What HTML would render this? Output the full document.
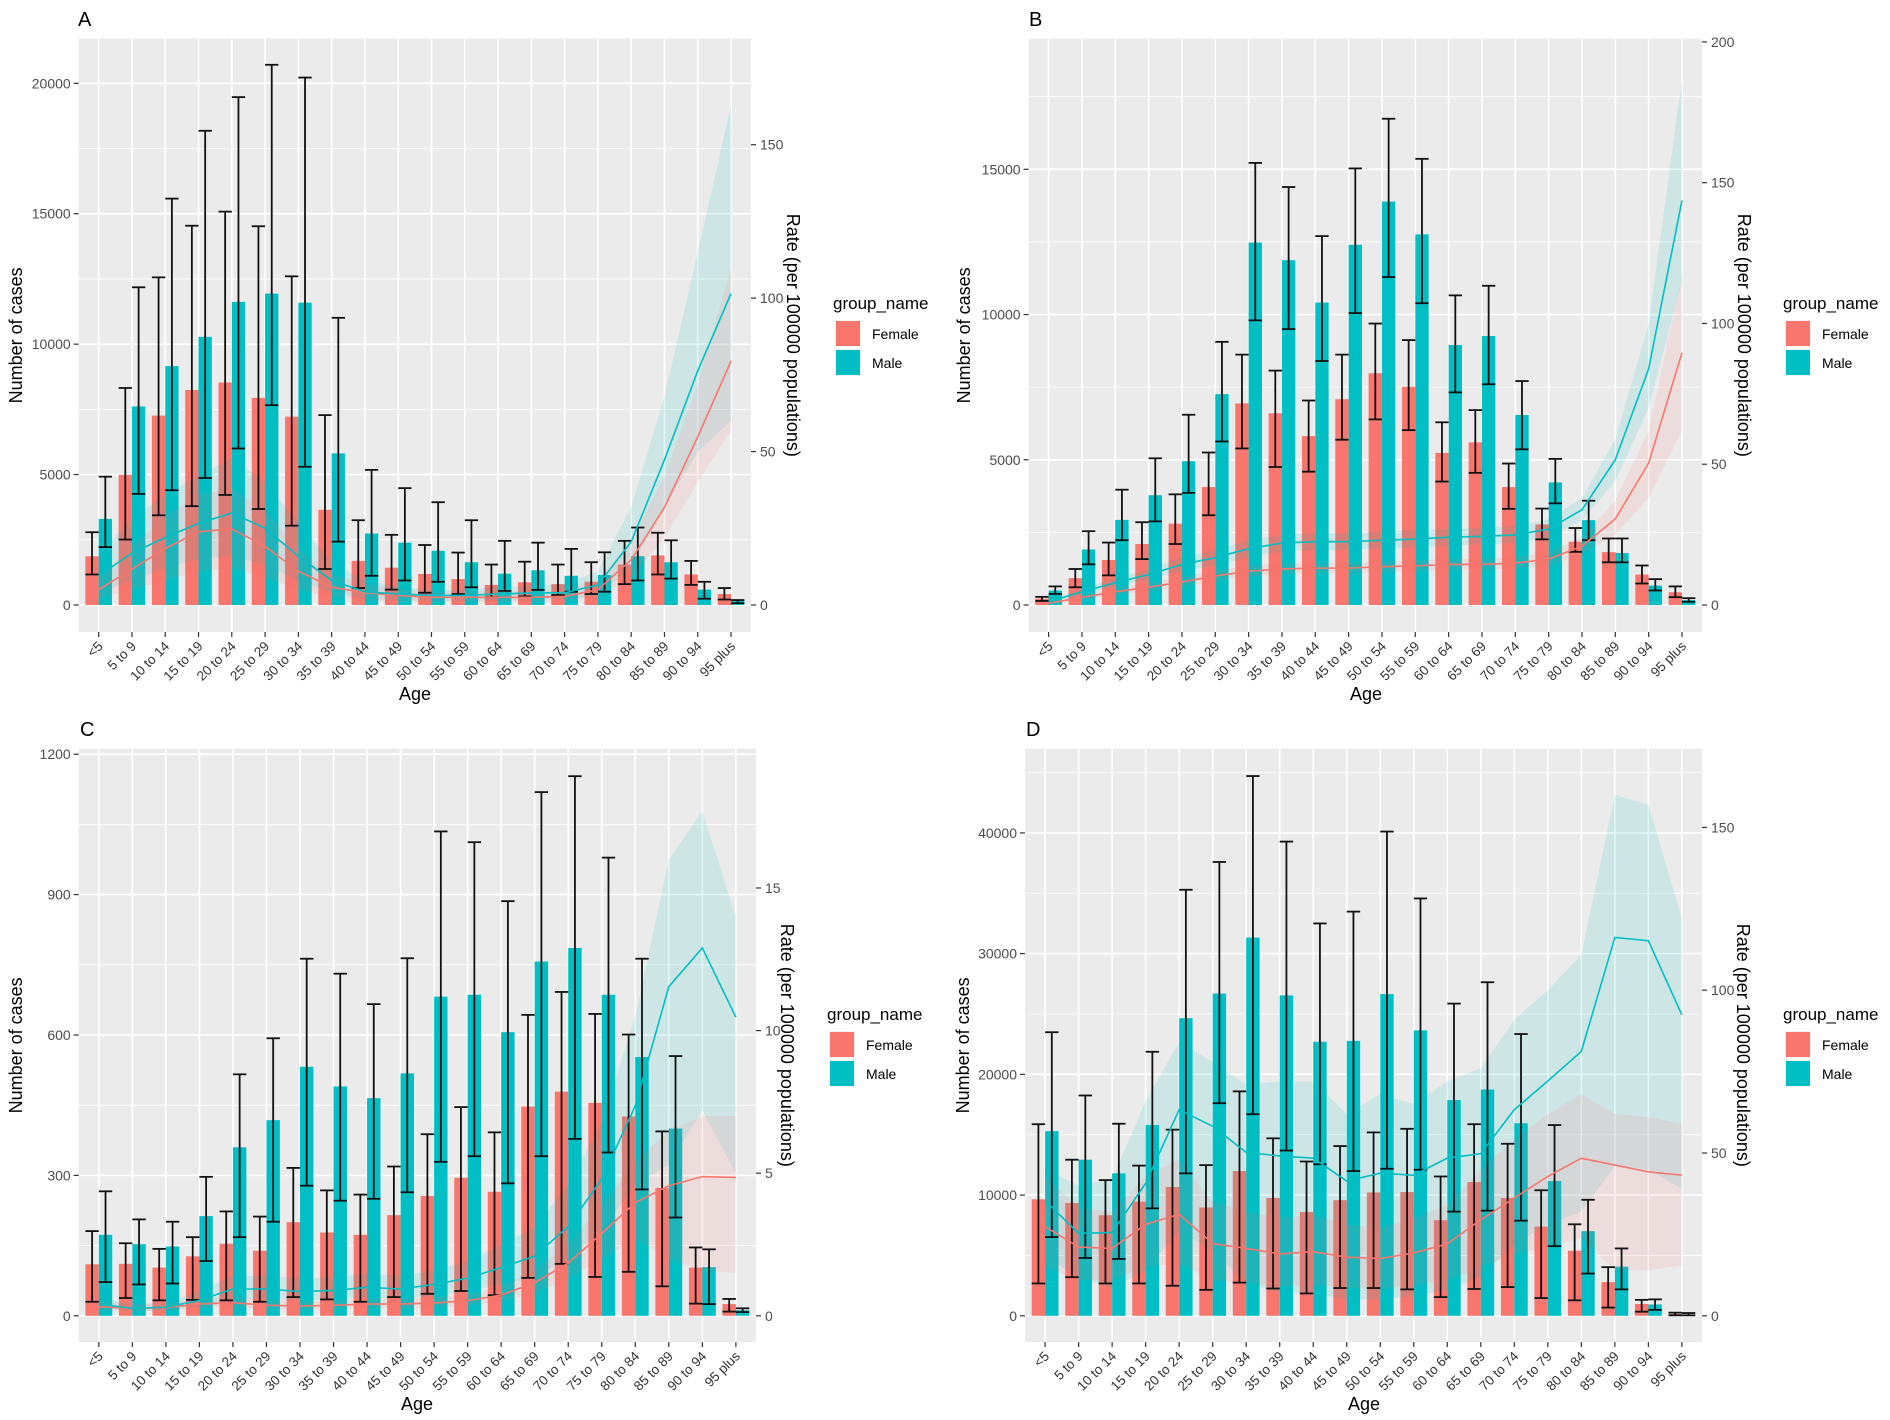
<!DOCTYPE html>
<html><head><meta charset="utf-8"><style>
body{margin:0;background:#fff}
svg{display:block;font-family:"Liberation Sans",Arial,sans-serif}
</style></head><body>
<svg id="chart" width="1890" height="1420" viewBox="0 0 1890 1420" xmlns="http://www.w3.org/2000/svg"></svg>
<script>
const categories=["<5","5 to 9","10 to 14","15 to 19","20 to 24","25 to 29","30 to 34","35 to 39","40 to 44","45 to 49","50 to 54","55 to 59","60 to 64","65 to 69","70 to 74","75 to 79","80 to 84","85 to 89","90 to 94","95 plus"];

// Panel A
const aTicks=[0,5000,10000,15000,20000];
const aRTicks=[0,50,100,150];
const aFemale=[1867,4990,7260,8240,8530,7940,7220,3650,1690,1430,1190,995,770,870,800,890,1550,1900,1170,420];
const aFemaleLo=[1170,2510,3440,3790,4220,3680,3040,1380,650,590,470,420,300,330,380,420,800,1170,770,210];
const aFemaleHi=[2790,8320,12560,14540,15080,14520,12600,7280,3250,2690,2300,2010,1550,1660,1550,1640,2460,2770,1690,650];
const aMale=[3300,7610,9160,10280,11620,11940,11590,5810,2740,2390,2080,1640,1200,1330,1120,1150,1870,1640,590,160];
const aMaleLo=[2220,4260,4400,4870,6000,7660,5300,2430,1120,940,890,680,540,580,510,510,940,1010,240,70];
const aMaleHi=[4920,12180,15580,18180,19470,20710,20220,11010,5180,4480,3940,3250,2460,2390,2150,2020,2970,2480,890,190];
const aRateF=[5,11.7,18.4,23.9,24.8,19.1,11,5.8,4,3.1,2.5,2.5,2.5,2.5,2.8,5,14.7,31.8,54.8,79.5];
const aRateFLo=[2,5,8,11,12,9,5,2.5,1.5,1.2,1,1,1,1,1.1,2.5,9,22,40,57];
const aRateFHi=[9,19,29,36,38,31,18,10,7,5,4.5,4.5,4.5,4.5,5,8,21,42,72,110];
const aRateM=[9.5,16.9,22,26.6,30,25,15.9,8,4.3,3.6,3.1,3.1,3.6,3.9,4,6.5,20.6,47.3,76.3,101.5];
const aRateMLo=[4,8,12,15,16,13,8,4,2,1.6,1.4,1.4,1.6,1.8,1.8,3,12,32,50,60];
const aRateMHi=[17,28,36,42,48,40,27,14,8,6,5,5,6,6,7,11,32,68,115,163];

// Panel B
const bTicks=[0,5000,10000,15000];
const bRTicks=[0,50,100,150,200];
const bFemale=[220,925,1550,2100,2800,4060,6940,6600,5815,7085,7980,7510,5235,5600,4060,2775,2180,1820,1050,440];
const bFemaleLo=[140,610,1020,1580,2100,3090,5390,4750,4590,5690,6390,6020,4250,4550,3310,2260,1830,1470,740,270];
const bFemaleHi=[280,1240,2150,2850,3810,5250,8620,8070,7040,8620,9690,9120,6290,6710,4870,3320,2650,2290,1360,640];
const bMale=[500,1910,2930,3780,4950,7260,12480,11870,10410,12400,13890,12760,8950,9260,6540,4220,2920,1790,670,170];
const bMaleLo=[380,1400,2230,2880,3860,5630,9800,9500,8400,10050,11290,10390,7320,7600,5360,3500,2230,1470,500,110];
const bMaleHi=[640,2540,3970,5050,6550,9060,15220,14390,12700,15030,16740,15360,10660,10990,7710,5030,3590,2290,890,235];
const bRateF=[0.6,2.7,4.7,6.3,8.2,10.3,12,12.8,13.1,13.1,13.6,13.9,14.4,14.4,14.9,16.3,20.9,30.6,50.4,89.6];
const bRateFLo=[0.3,1.8,3.5,5,6.5,8.5,10,11,11.3,11.3,11.8,12,12.5,12.5,13,14,18,25,38,62];
const bRateFHi=[1,3.6,6,7.8,10,12.3,14,14.8,15,15,15.5,15.8,16.4,16.4,17,18.8,24,37,62,117];
const bRateM=[1.1,4.7,7.9,10.8,14.4,16.8,20,22,22.5,22.5,23,23.4,24.1,24.4,24.9,27,33.8,51.6,83.9,143.7];
const bRateMLo=[0.6,3.5,6.5,9,12,14,17,19,19.5,19.5,20,20.5,21,21.5,22,24,30,44,70,115];
const bRateMHi=[1.6,6,9.5,12.5,17,19.5,23,25,25.5,25.5,26,26.5,27,27.5,28,30.5,38,59,100,187];

// Panel C
const cTicks=[0,300,600,900,1200];
const cRTicks=[0,5,10,15];
const cFemale=[110,111,103,127,154,139,200,178,173,215,256,295,265,447,479,455,426,273,103,25];
const cFemaleLo=[30,38,33,34,33,30,40,35,30,40,47,53,44,81,111,83,94,63,26,9];
const cFemaleHi=[181,155,143,168,223,212,316,268,259,319,388,446,392,643,692,645,601,394,146,36];
const cMale=[173,153,148,213,360,418,532,490,465,518,682,686,606,757,786,686,553,400,104,12];
const cMaleLo=[72,67,69,117,168,201,278,246,250,264,329,341,283,341,378,349,270,210,25,8];
const cMaleHi=[266,206,201,297,516,593,763,731,666,764,1035,1012,886,1119,1153,979,763,555,142,16];
const cRateF=[0.32,0.26,0.29,0.41,0.46,0.37,0.34,0.37,0.41,0.41,0.45,0.53,0.73,1.16,1.85,2.89,3.97,4.56,4.88,4.85];
const cRateFLo=[0.2,0.17,0.19,0.27,0.3,0.24,0.22,0.24,0.27,0.27,0.3,0.35,0.5,0.8,1.3,2,2.7,2,1.6,1.5];
const cRateFHi=[0.5,0.4,0.45,0.6,0.7,0.55,0.5,0.55,0.6,0.6,0.65,0.75,1.05,1.6,2.5,3.9,5.4,6.5,7,7];
const cRateM=[0.41,0.26,0.3,0.54,0.94,0.94,0.85,0.89,1,0.94,1.1,1.32,1.69,2.09,3.13,4.8,7.36,11.54,12.9,10.47];
const cRateMLo=[0.25,0.16,0.18,0.34,0.6,0.6,0.55,0.57,0.65,0.6,0.7,0.85,1.1,1.35,2,3,4.6,5.3,7.2,5];
const cRateMHi=[0.65,0.4,0.46,0.85,1.4,1.4,1.3,1.35,1.5,1.4,1.6,1.9,2.5,3.1,4.6,6.8,10.5,16,17.7,14];

// Panel D
const dTicks=[0,10000,20000,30000,40000];
const dRTicks=[0,50,100,150];
const dFemale=[9650,9350,8330,9460,10670,8970,11990,9760,8600,9580,10220,10250,7920,11080,9760,7390,5390,2790,980,150];
const dFemaleLo=[2680,3200,2680,2680,2490,2150,2750,2260,1850,2300,2300,2190,1550,2220,2380,1470,1280,680,340,40];
const dFemaleHi=[15870,12930,11240,12440,15420,12480,18590,14700,12780,14060,15190,15490,11540,15870,14250,10400,7580,4030,1320,260];
const dMale=[15300,12930,11800,15800,24650,26690,31330,26540,22700,22770,26650,23640,17870,18740,15950,11160,7010,4070,940,110];
const dMaleLo=[6520,4790,4710,8900,11800,17610,16700,13690,12550,11990,12180,12100,8630,8710,7880,5770,3500,2190,490,40];
const dMaleHi=[23490,18250,15910,21870,35290,37590,44710,39280,32500,33480,40110,34570,25860,27630,23340,15800,9610,5580,1360,230];
const dRateF=[27.4,21.1,20.7,28.1,31.2,22.2,20.7,19,19.7,18,17.6,19.3,22.1,29.5,36.2,42.8,48.4,46.3,44.2,43.2];
const dRateFLo=[15,11,11,15,16,11,10,9,9.5,8.5,8.3,9.2,11,15,19,21,24,14,14,15.5];
const dRateFHi=[43,33,32,43,48,35,32,30,31,28,27,30,34,45,54,62,68,62,61,59];
const dRateM=[35.4,25.3,25.6,40.7,63.3,58.2,50.2,49.1,48.4,41.4,43.8,43.2,48.4,49.8,63.3,72.1,81.2,116.2,115.2,92.4];
const dRateMLo=[18,12,8.5,14,26,20,10,7,7,5,5,6,8,12,22,28,32,46,45,39];
const dRateMHi=[45,40,42,66,84,78,71,72,72,62,68,65,72,76,91,100,111,160,157,122];

const svg=document.getElementById('chart');
const NS='http://www.w3.org/2000/svg';
function mk(tag,attrs,parent,text){const e=document.createElementNS(NS,tag);for(const k in attrs)e.setAttribute(k,attrs[k]);if(text!==undefined)e.textContent=text;(parent||svg).appendChild(e);return e;}
const FEM='#F8766D',MAL='#00BFC4';

function drawPanel(p){
  const g=mk('g',{});
  
  
  const step=(p.x1-p.x0)/20.2;
  const cx=i=>p.x0+(i+0.6)*step;
  const yL=v=>p.zero-v*(p.zero-p.lTopPx)/p.lTopVal;
  const yR=v=>p.zero-v*(p.zero-p.rTopPx)/p.rTopVal;
  const bg=mk('rect',{x:p.x0,y:p.yt,width:p.x1-p.x0,height:p.yb-p.yt,fill:'#EBEBEB'},g);
  
  
  const t=p.ticks, d=t[1]-t[0];
  for(let v=t[0]-d/2; v<=t[t.length-1]+d; v+=d){const y=yL(v); if(y>p.yt&&y<p.yb){const l=mk('line',{x1:p.x0,x2:p.x1,y1:y,y2:y,stroke:'#fff','stroke-width':0.8},g);}}
  t.forEach(v=>{const y=yL(v);const l=mk('line',{x1:p.x0,x2:p.x1,y1:y,y2:y,stroke:'#fff','stroke-width':1.6},g);
    const tk=mk('line',{x1:p.x0-5,x2:p.x0,y1:y,y2:y,stroke:'#333','stroke-width':1.2},g);
    const tx=mk('text',{x:p.x0-8,y:y+5,'text-anchor':'end','font-size':14,fill:'#4D4D4D'},g,String(v));});
  categories.forEach((c,i)=>{const x=cx(i);const l=mk('line',{x1:x,x2:x,y1:p.yt,y2:p.yb,stroke:'#fff','stroke-width':1.6},g);
    const tk=mk('line',{x1:x,x2:x,y1:p.yb,y2:p.yb+5,stroke:'#333','stroke-width':1.2},g);
    const ax=x+5, ay=p.yb+15;
    const tx=mk('text',{x:ax,y:ay,'text-anchor':'end','font-size':13.5,fill:'#333',transform:'rotate(-45 '+ax+' '+ay+')'},g,c);});
  const bw=step*0.4;
  p.f.forEach((v,i)=>{const y=yL(v);const r=mk('rect',{x:cx(i)-bw,y:y,width:bw,height:yL(0)-y,fill:FEM},g);});
  p.m.forEach((v,i)=>{const y=yL(v);const r=mk('rect',{x:cx(i),y:y,width:bw,height:yL(0)-y,fill:MAL},g);});
  function ribbon(lo,hi,col,name){let pts=hi.map((v,i)=>cx(i)+','+yR(v));for(let i=lo.length-1;i>=0;i--)pts.push(cx(i)+','+yR(lo[i]));
    const pg=mk('polygon',{points:pts.join(' '),fill:col,'fill-opacity':0.12},g);}
  ribbon(p.rmLo,p.rmHi,MAL,'ribbon-male-rate');
  ribbon(p.rfLo,p.rfHi,FEM,'ribbon-female-rate');
  function err(lo,hi,off,name){lo.forEach((l,i)=>{const x=cx(i)+off;const y1=yL(l),y2=yL(hi[i]);const eg=mk('g',{stroke:'#111','stroke-width':1.8},g);
    mk('line',{x1:x,x2:x,y1:y1,y2:y2},eg);mk('line',{x1:x-bw/2,x2:x+bw/2,y1:y1,y2:y1},eg);mk('line',{x1:x-bw/2,x2:x+bw/2,y1:y2,y2:y2},eg);});}
  err(p.fLo,p.fHi,-bw/2,'errorbar-female');
  err(p.mLo,p.mHi,bw/2,'errorbar-male');
  function line(vals,col,name){const pl=mk('polyline',{points:vals.map((v,i)=>cx(i)+','+yR(v)).join(' '),fill:'none',stroke:col,'stroke-width':1.6},g);}
  line(p.rf,FEM,'rate-line-female');
  line(p.rm,MAL,'rate-line-male');
  p.rticks.forEach(v=>{const y=yR(v);const tk=mk('line',{x1:p.x1,x2:p.x1+5,y1:y,y2:y,stroke:'#333','stroke-width':1.2},g);
    const tx=mk('text',{x:p.x1+9,y:y+5,'font-size':14,fill:'#4D4D4D'},g,String(v));});
  const mid=(p.yt+p.yb)/2;
  const lt=mk('text',{x:p.lx,y:mid,'text-anchor':'middle','font-size':18,fill:'#000',transform:'rotate(-90 '+p.lx+' '+mid+')'},g,'Number of cases');
  const rt=mk('text',{x:p.rx,y:mid,'text-anchor':'middle','font-size':18,fill:'#000',transform:'rotate(90 '+p.rx+' '+mid+')'},g,'Rate (per 100000 populations)');
  const at=mk('text',{x:p.ageX,y:p.ageY,'text-anchor':'middle','font-size':18,fill:'#000'},g,'Age');
  const pl=mk('text',{x:p.letX,y:p.letY,'font-size':20,fill:'#000'},g,p.letter);
  const lg=mk('g',{},g);
  const lt2=mk('text',{x:p.legX-2,y:p.legY-11,'font-size':17,fill:'#000'},lg,'group_name');
  [['Female',FEM],['Male',MAL]].forEach((e,k)=>{const y=p.legY+k*29;
    const eg=mk('g',{},lg);
    mk('rect',{x:p.legX,y:y,width:26,height:27,fill:'#F2F2F2'},eg);
    mk('rect',{x:p.legX+1,y:y+1,width:24,height:25,fill:e[1]},eg);
    mk('text',{x:p.legX+37,y:y+19,'font-size':14,fill:'#000'},eg,e[0]);});
}

drawPanel({letter:'A',x0:78.7,x1:751,yt:38.7,yb:632,zero:605,lTopVal:20000,lTopPx:83.3,rTopVal:150,rTopPx:144.7,ticks:aTicks,rticks:aRTicks,
 f:aFemale,fLo:aFemaleLo,fHi:aFemaleHi,m:aMale,mLo:aMaleLo,mHi:aMaleHi,rf:aRateF,rfLo:aRateFLo,rfHi:aRateFHi,rm:aRateM,rmLo:aRateMLo,rmHi:aRateMHi,
 lx:22,rx:787,ageX:415,ageY:700,letX:78,letY:26,legX:835,legY:320});
drawPanel({letter:'B',x0:1028.6,x1:1702,yt:38.7,yb:632,zero:605,lTopVal:15000,lTopPx:169.3,rTopVal:200,rTopPx:41.9,ticks:bTicks,rticks:bRTicks,
 f:bFemale,fLo:bFemaleLo,fHi:bFemaleHi,m:bMale,mLo:bMaleLo,mHi:bMaleHi,rf:bRateF,rfLo:bRateFLo,rfHi:bRateFHi,rm:bRateM,rmLo:bRateMLo,rmHi:bRateMHi,
 lx:970,rx:1738,ageX:1366,ageY:700,letX:1029,letY:26,legX:1785,legY:320});
drawPanel({letter:'C',x0:78.7,x1:756,yt:748.7,yb:1342,zero:1315.8,lTopVal:1200,lTopPx:754.2,rTopVal:15,rTopPx:888,ticks:cTicks,rticks:cRTicks,
 f:cFemale,fLo:cFemaleLo,fHi:cFemaleHi,m:cMale,mLo:cMaleLo,mHi:cMaleHi,rf:cRateF,rfLo:cRateFLo,rfHi:cRateFHi,rm:cRateM,rmLo:cRateMLo,rmHi:cRateMHi,
 lx:22,rx:781,ageX:417,ageY:1410,letX:80,letY:736,legX:829,legY:1031});
drawPanel({letter:'D',x0:1025,x1:1702,yt:748.7,yb:1342,zero:1315.8,lTopVal:40000,lTopPx:832.9,rTopVal:150,rTopPx:827.4,ticks:dTicks,rticks:dRTicks,
 f:dFemale,fLo:dFemaleLo,fHi:dFemaleHi,m:dMale,mLo:dMaleLo,mHi:dMaleHi,rf:dRateF,rfLo:dRateFLo,rfHi:dRateFHi,rm:dRateM,rmLo:dRateMLo,rmHi:dRateMHi,
 lx:969,rx:1737,ageX:1364,ageY:1410,letX:1026,letY:736,legX:1785,legY:1031});
</script>
</body></html>
